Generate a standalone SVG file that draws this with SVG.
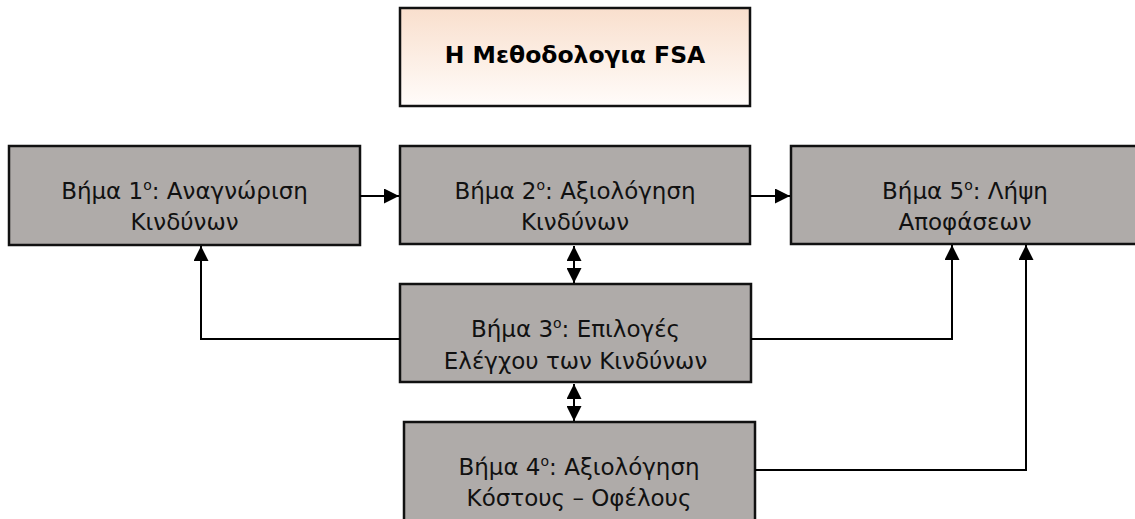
<svg xmlns="http://www.w3.org/2000/svg" width="1135" height="519" viewBox="0 0 1135 519">
<defs>
<linearGradient id="peach" x1="0" y1="0" x2="0" y2="1">
<stop offset="0" stop-color="#F9DFCD"/>
<stop offset="1" stop-color="#FFFCFA"/>
</linearGradient>
<marker id="ah" viewBox="0 0 10 10" refX="10" refY="5" markerWidth="15" markerHeight="15" markerUnits="userSpaceOnUse" orient="auto-start-reverse">
<path d="M0,0 L10,5 L0,10 z" fill="#000"/>
</marker>
</defs>
<style>
.box{fill:#AFABA9;stroke:#111;stroke-width:2.5}
.title{fill:url(#peach);stroke:#111;stroke-width:2.5}
.t{font-family:"DejaVu Sans","Liberation Sans",sans-serif;font-size:23px;fill:#111;text-anchor:middle}
.tb{font-family:"DejaVu Sans","Liberation Sans",sans-serif;font-size:23.5px;font-weight:bold;fill:#000;text-anchor:middle}
.sup{font-size:14px}
.c{fill:none;stroke:#000;stroke-width:2}
</style>
<g id="title">
<rect class="title" x="400" y="8" width="350" height="98"/>
<text class="tb" x="575" y="63">Η Μεθοδολογια FSA</text>
</g>
<g id="step1">
<rect class="box" x="9" y="146" width="351" height="99"/>
<text class="t" x="184.5" y="199">Βήμα 1<tspan class="sup" dy="-9">ο</tspan><tspan dy="9">: Αναγνώριση</tspan></text>
<text class="t" x="184.5" y="230">Κινδύνων</text>
</g>
<g id="step2">
<rect class="box" x="400" y="146" width="350" height="98"/>
<text class="t" x="575" y="199">Βήμα 2<tspan class="sup" dy="-9">ο</tspan><tspan dy="9">: Αξιολόγηση</tspan></text>
<text class="t" x="575" y="230">Κινδύνων</text>
</g>
<g id="step5">
<rect class="box" x="791" y="146" width="350" height="98"/>
<text class="t" x="965" y="199">Βήμα 5<tspan class="sup" dy="-9">ο</tspan><tspan dy="9">: Λήψη</tspan></text>
<text class="t" x="965" y="230">Αποφάσεων</text>
</g>
<g id="step3">
<rect class="box" x="400" y="284" width="351" height="98"/>
<text class="t" x="575.5" y="337">Βήμα 3<tspan class="sup" dy="-9">ο</tspan><tspan dy="9">: Επιλογές</tspan></text>
<text class="t" x="575.5" y="369">Ελέγχου των Κινδύνων</text>
</g>
<g id="step4">
<rect class="box" x="404" y="422" width="351" height="110"/>
<text class="t" x="579" y="475">Βήμα 4<tspan class="sup" dy="-9">ο</tspan><tspan dy="9">: Αξιολόγηση</tspan></text>
<text class="t" x="579" y="506">Κόστους – Οφέλους</text>
</g>
<g id="connectors">
<line class="c" x1="360" y1="196" x2="399" y2="196" marker-end="url(#ah)"/>
<line class="c" x1="750" y1="196" x2="790" y2="196" marker-end="url(#ah)"/>
<line class="c" x1="574" y1="246" x2="574" y2="283" marker-start="url(#ah)" marker-end="url(#ah)"/>
<line class="c" x1="574" y1="384" x2="574" y2="421" marker-start="url(#ah)" marker-end="url(#ah)"/>
<polyline class="c" points="400,339 201,339 201,246" marker-end="url(#ah)"/>
<polyline class="c" points="751,339 952,339 952,245" marker-end="url(#ah)"/>
<polyline class="c" points="755,470 1026,470 1026,245" marker-end="url(#ah)"/>
</g>
</svg>
